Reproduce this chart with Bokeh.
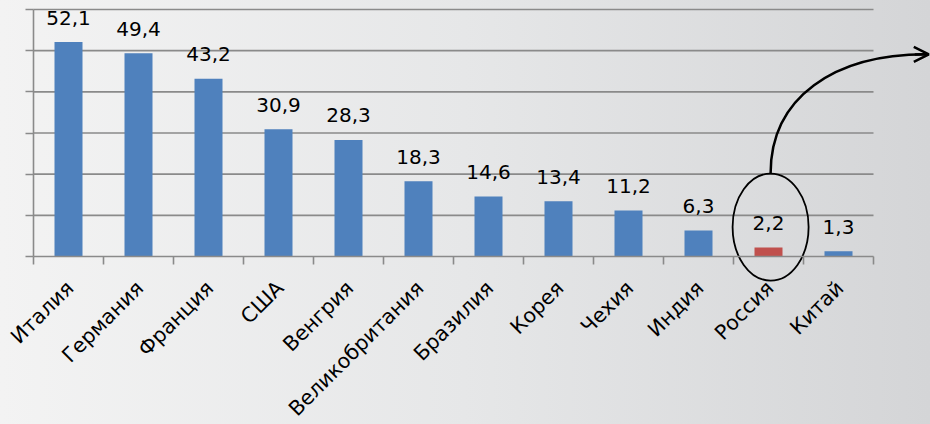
from bokeh.plotting import figure
from bokeh.models import (Range1d, LinearAxis, FixedTicker, CustomJSTickFormatter,
                          Arrow, OpenHead, ColumnDataSource)
from bokeh.core.properties import value
from bokeh.embed import file_html
from bokeh.resources import INLINE
import math

# ---------------- data ----------------
countries = ["Италия", "Германия", "Франция", "США", "Венгрия", "Великобритания",
             "Бразилия", "Корея", "Чехия", "Индия", "Россия", "Китай"]
values = [52.1, 49.4, 43.2, 30.9, 28.3, 18.3, 14.6, 13.4, 11.2, 6.3, 2.2, 1.3]
value_labels = ["52,1", "49,4", "43,2", "30,9", "28,3", "18,3", "14,6", "13,4",
                "11,2", "6,3", "2,2", "1,3"]
highlight = "Россия"
y_ticks = [0, 10, 20, 30, 40, 50, 60]

BLUE = "#4f81bd"
RED = "#c0504d"
AXIS = "#8a8a8a"
FONT = "DejaVu Sans"

n = len(countries)
xs = [i + 0.5 for i in range(n)]
colors = [RED if c == highlight else BLUE for c in countries]

# frame covers the whole canvas; axes are placed at fixed data locations
W, H = 930, 424
px_per_x = 70.0
x0_px = 33.0
y0_px = 256.0
px_per_y = 247.0 / 60.0
x_range = Range1d(-x0_px / px_per_x, (W - x0_px) / px_per_x)
y_range = Range1d(-(H - y0_px) / px_per_y, y0_px / px_per_y)

p = figure(width=W, height=H, x_range=x_range, y_range=y_range,
           output_backend="svg", toolbar_location=None, min_border=0,
           x_axis_type=None, y_axis_type=None)
p.background_fill_color = None
p.border_fill_color = None
p.outline_line_color = None
p.xgrid.visible = False
p.ygrid.visible = False
p.styles = {"background": "linear-gradient(to right, #f3f3f3 0%, #e6e7e8 50%, #d4d5d7 100%)"}

empty = CustomJSTickFormatter(code="return ''")

# horizontal grid lines across the category span
grid_vals = [t for t in y_ticks if t > 0]
p.segment(x0=[0] * len(grid_vals), x1=[n] * len(grid_vals), y0=grid_vals, y1=grid_vals,
          line_color=AXIS, line_width=1.6)

# y axis (no labels)
yaxis = LinearAxis(fixed_location=0, bounds=(0, y_ticks[-1]),
                   ticker=FixedTicker(ticks=y_ticks), formatter=empty,
                   axis_line_color=AXIS, axis_line_width=1.6,
                   major_tick_line_color=AXIS, major_tick_line_width=1.6,
                   major_tick_out=8, major_tick_in=0, minor_tick_line_color=None,
                   major_label_text_font_size="1px")
p.add_layout(yaxis, "left")

# x axis line + boundary ticks
xaxis = LinearAxis(fixed_location=0, bounds=(0, n),
                   ticker=FixedTicker(ticks=list(range(n + 1))), formatter=empty,
                   axis_line_color=AXIS, axis_line_width=1.6,
                   major_tick_line_color=AXIS, major_tick_line_width=1.6,
                   major_tick_out=8, major_tick_in=0, minor_tick_line_color=None,
                   major_label_text_font_size="1px")
p.add_layout(xaxis, "below")

# x axis category labels
label_pos = [x + 0.02 for x in xs]
xlab = LinearAxis(fixed_location=0, ticker=FixedTicker(ticks=label_pos),
                  major_label_overrides={lp: c for lp, c in zip(label_pos, countries)},
                  axis_line_color=None, major_tick_line_color=None, minor_tick_line_color=None,
                  major_tick_out=0, major_tick_in=0,
                  major_label_orientation=math.pi / 4, major_label_standoff=28,
                  major_label_text_font=FONT, major_label_text_font_size="20.5px",
                  major_label_text_color="#000000")
p.add_layout(xlab, "below")

# bars
src = ColumnDataSource(dict(x=xs, top=values, color=colors, lab=value_labels))
p.vbar(x="x", top="top", bottom=0, width=0.4, fill_color="color", line_color=None, source=src)

# value labels
p.text(x="x", y="top", text="lab", source=src, y_offset=-24.5,
       text_align="center", text_baseline="alphabetic",
       text_font=value(FONT), text_font_size="20px", text_color="#000000")

# ellipse around highlighted bar and curved arrow
hi = countries.index(highlight) + 0.5
ell_cx, ell_cy, ell_w, ell_h = hi + 0.03, 7.15, 1.086, 26.0
p.ellipse(x=[ell_cx], y=[ell_cy], width=[ell_w], height=[ell_h],
          fill_color=None, line_color="black", line_width=1.8)
top_y = ell_cy + ell_h / 2
end_x, end_y = 12.79, 49.1
p.bezier(x0=[ell_cx], y0=[top_y], x1=[end_x], y1=[end_y],
         cx0=[ell_cx], cy0=[38.5], cx1=[ell_cx + 0.9], cy1=[49.3],
         line_color="black", line_width=2.5)
p.add_layout(Arrow(x_start=end_x - 0.2, y_start=end_y - 0.01, x_end=end_x, y_end=end_y,
                   line_color="black", line_width=2.5,
                   end=OpenHead(size=15, line_color="black", line_width=2.5)))

open("out.html", "w").write(file_html(p, INLINE))
